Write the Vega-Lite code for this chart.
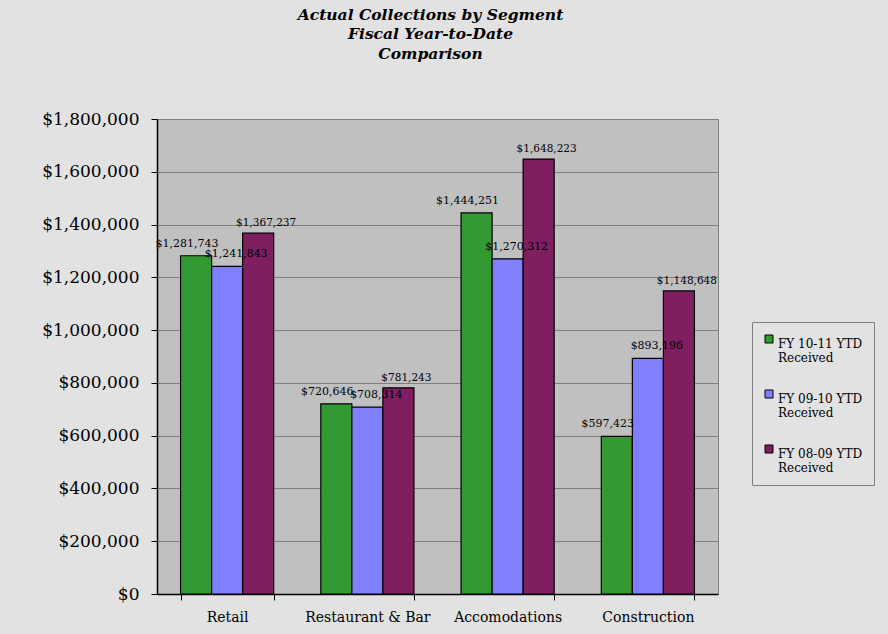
{
  "$schema": "https://vega.github.io/schema/vega-lite/v6.json",
  "autosize": {"type": "none"},
  "width": 561,
  "height": 475,
  "padding": {"left": 157, "top": 119, "right": 170, "bottom": 40},
  "background": "#e2e2e2",
  "title": {
    "text": ["Actual Collections by Segment", "Fiscal Year-to-Date", "Comparison"],
    "font": "DejaVu Serif",
    "fontSize": 15.5,
    "fontStyle": "italic",
    "fontWeight": "bold",
    "color": "#000000",
    "anchor": "middle",
    "offset": 48,
    "lineHeight": 19.5,
    "dx": -7
  },
  "config": {
    "view": {"fill": "#c0c0c0", "stroke": "#808080"},
    "font": "DejaVu Serif"
  },
  "data": {
    "values": [
      {"segment": "Retail", "series": "FY 10-11 YTD Received", "value": 1281743},
      {"segment": "Retail", "series": "FY 09-10 YTD Received", "value": 1241843},
      {"segment": "Retail", "series": "FY 08-09 YTD Received", "value": 1367237},
      {"segment": "Restaurant & Bar", "series": "FY 10-11 YTD Received", "value": 720646},
      {"segment": "Restaurant & Bar", "series": "FY 09-10 YTD Received", "value": 708314},
      {"segment": "Restaurant & Bar", "series": "FY 08-09 YTD Received", "value": 781243},
      {"segment": "Accomodations", "series": "FY 10-11 YTD Received", "value": 1444251},
      {"segment": "Accomodations", "series": "FY 09-10 YTD Received", "value": 1270312},
      {"segment": "Accomodations", "series": "FY 08-09 YTD Received", "value": 1648223},
      {"segment": "Construction", "series": "FY 10-11 YTD Received", "value": 597423},
      {"segment": "Construction", "series": "FY 09-10 YTD Received", "value": 893196},
      {"segment": "Construction", "series": "FY 08-09 YTD Received", "value": 1148648}
    ]
  },
  "encoding": {
    "x": {
      "field": "segment",
      "type": "nominal",
      "sort": ["Retail", "Restaurant & Bar", "Accomodations", "Construction"],
      "scale": {"paddingInner": 0.336, "paddingOuter": 0.168},
      "axis": {
        "title": null,
        "labelAngle": 0,
        "labelFont": "DejaVu Serif",
        "labelFontSize": 14,
        "labelColor": "#000000",
        "labelPadding": 10,
        "tickBand": "extent",
        "tickColor": "#000000",
        "tickSize": 6,
        "domainColor": "#000000",
        "domainWidth": 1.5
      }
    },
    "xOffset": {
      "field": "series",
      "type": "nominal",
      "scale": {"domain": ["FY 10-11 YTD Received", "FY 09-10 YTD Received", "FY 08-09 YTD Received"]}
    },
    "y": {
      "field": "value",
      "type": "quantitative",
      "scale": {"domain": [0, 1800000], "nice": false},
      "axis": {
        "title": null,
        "values": [0, 200000, 400000, 600000, 800000, 1000000, 1200000, 1400000, 1600000, 1800000],
        "format": "$,.0f",
        "labelFont": "DejaVu Serif",
        "labelFontSize": 17,
        "labelColor": "#000000",
        "labelPadding": 12,
        "tickColor": "#000000",
        "tickSize": 6,
        "domainColor": "#000000",
        "domainWidth": 1.5,
        "gridColor": "#808080",
        "gridWidth": 1
      }
    }
  },
  "layer": [
    {
      "mark": {"type": "bar", "stroke": "#000000", "strokeWidth": 1.2},
      "encoding": {
        "color": {
          "field": "series",
          "type": "nominal",
          "scale": {
            "domain": ["FY 10-11 YTD Received", "FY 09-10 YTD Received", "FY 08-09 YTD Received"],
            "range": ["#339933", "#8080ff", "#7f1f5f"]
          },
          "legend": {
            "title": null,
            "orient": "none",
            "legendX": 595,
            "legendY": 203,
            "direction": "vertical",
            "symbolType": "square",
            "symbolSize": 64,
            "symbolStrokeColor": "#000000",
            "symbolStrokeWidth": 1,
            "labelFont": "DejaVu Serif",
            "labelFontSize": 12,
            "labelColor": "#000000",
            "labelLimit": 200,
            "labelBaseline": "top",
            "labelOffset": 3,
            "labelExpr": "[substring(datum.label, 0, 12), 'Received']",
            "rowPadding": 24,
            "padding": 11,
            "fillColor": "#e2e2e2",
            "strokeColor": "#808080",
            "cornerRadius": 0
          }
        }
      }
    },
    {
      "transform": [{"filter": "datum.series === 'FY 10-11 YTD Received'"}],
      "mark": {"type": "text", "dx": -9, "dy": -7, "baseline": "bottom", "fontSize": 11, "font": "DejaVu Serif", "color": "#000000"},
      "encoding": {
        "text": {"field": "value", "type": "quantitative", "format": "$,.0f"}
      }
    },
    {
      "transform": [{"filter": "datum.series === 'FY 09-10 YTD Received'"}],
      "mark": {"type": "text", "dx": 9, "dy": -7, "baseline": "bottom", "fontSize": 11, "font": "DejaVu Serif", "color": "#000000"},
      "encoding": {
        "text": {"field": "value", "type": "quantitative", "format": "$,.0f"}
      }
    },
    {
      "transform": [{"filter": "datum.series === 'FY 08-09 YTD Received'"}],
      "mark": {"type": "text", "dx": 8, "dy": -5, "baseline": "bottom", "fontSize": 10.5, "font": "DejaVu Serif", "color": "#000000"},
      "encoding": {
        "text": {"field": "value", "type": "quantitative", "format": "$,.0f"}
      }
    }
  ]
}
